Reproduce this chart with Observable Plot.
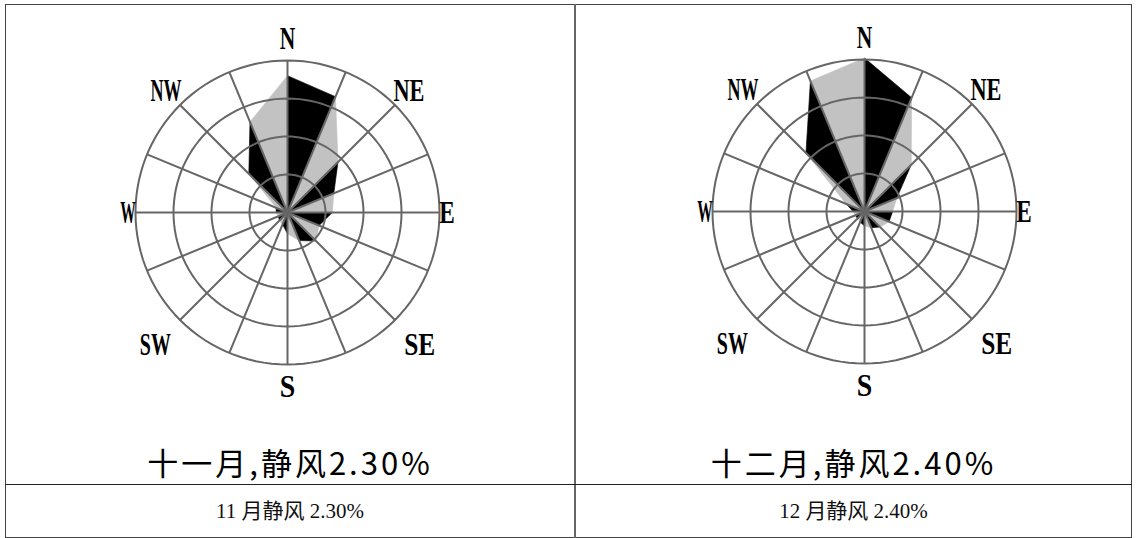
<!DOCTYPE html>
<html>
<head>
<meta charset="utf-8">
<script src="https://cdn.jsdelivr.net/npm/d3@7"></script>
<script src="https://cdn.jsdelivr.net/npm/@observablehq/plot@0.6"></script>
<style>
  html, body { margin: 0; padding: 0; background: #fff; }
  body { width: 1136px; height: 538px; position: relative; overflow: hidden; }
  .abs { position: absolute; }
  .big { font-family: "Noto Sans CJK SC", sans-serif; font-size: 31px; color: #000; text-align: center; letter-spacing: 3px; }
  .cap { font-family: "Liberation Serif", "Noto Sans CJK SC", serif; font-size: 21px; color: #111; text-align: center; line-height: 52px; }
</style>
</head>
<body>
<div class="abs" style="left:5px;top:4px;width:1127px;height:534px;border:1px solid #444;box-sizing:border-box"></div>
<div class="abs" style="left:574px;top:4px;width:2px;height:534px;background:#666"></div>
<div class="abs" style="left:5px;top:484px;width:1127px;height:1px;background:#222"></div>
<div id="p1" class="abs" style="left:87px;top:12px"></div>
<div id="p2" class="abs" style="left:664px;top:11px"></div>
<div id="b1" class="abs big" style="left:5px;width:570px;top:439px"></div>
<div id="b2" class="abs big" style="left:575px;width:557px;top:439px"></div>
<div id="c1" class="abs cap" style="left:5px;width:570px;top:485px"></div>
<div id="c2" class="abs cap" style="left:575px;width:557px;top:485px"></div>
<script>
// 16 compass directions, clockwise from north
const directions = ["N","NNE","NE","ENE","E","ESE","SE","SSE","S","SSW","SW","WSW","W","WNW","NW","NNW"];
// wind frequency (%) per direction
const novFreq = [18.0, 16.5, 9.4, 6.6, 5.9, 4.5, 5.3, 4.0, 2.8, 1.7, 1.5, 1.3, 1.5, 1.6, 7.2, 12.9];
const decFreq = [20.2, 16.2, 8.7, 4.6, 3.7, 3.5, 2.9, 2.3, 1.9, 1.5, 1.3, 1.3, 1.5, 2.6, 10.9, 18.6];
// grid rings (%)
const ringValues = [5, 10, 15, 20];
// labelled compass points
const compassLabels = ["N","NE","E","SE","S","SW","W","NW"];
// titles
const imageTitles = ["十一月,静风2.30%", "十二月,静风2.40%"];
const captions = ["11 月静风 2.30%", "12 月静风 2.40%"];

const PX = 7.6;            // pixels per percent
const SIZE = 400;
const D = SIZE / 2 / PX;
const ang = d => directions.indexOf(d) * Math.PI / 8;

function rose(freq) {
  const pts = directions.map((d, i) => ({i, x: freq[i] * Math.sin(ang(d)), y: freq[i] * Math.cos(ang(d))}));
  const tris = [];
  pts.forEach((p, i) => {
    const q = pts[(i + 1) % pts.length];
    tris.push({t: i, x: 0, y: 0}, {t: i, x: p.x, y: p.y}, {t: i, x: q.x, y: q.y});
  });
  const black = tris.filter(d => d.t % 2 === 0);
  const gray = tris.filter(d => d.t % 2 === 1);
  const rmax = d3.max(ringValues);
  const ringPts = ringValues.flatMap(r => d3.range(0, 361, 3).map(a => ({r, x: r * Math.sin(a * Math.PI / 180), y: r * Math.cos(a * Math.PI / 180)})));
  const spokes = directions.map(d => ({x1: 0, y1: 0, x2: rmax * Math.sin(ang(d)), y2: rmax * Math.cos(ang(d))}));
  const labR = d => {
    if (d === "E" || d === "W") return rmax * 1.05;
    if (d === "N" || d === "S") return rmax * 1.145;
    if (d === "NE" || d === "NW") return rmax * 1.13;
    return rmax * 1.23;
  };
  const labels = compassLabels.map(d => ({text: d, x: labR(d) * Math.sin(ang(d)), y: labR(d) * Math.cos(ang(d))}));
  const svg = Plot.plot({
    width: SIZE, height: SIZE, margin: 0,
    x: {domain: [-D, D], axis: null},
    y: {domain: [-D, D], axis: null},
    style: {overflow: "visible", background: "transparent"},
    marks: [
      Plot.line(black, {x: "x", y: "y", z: "t", fill: "#000", stroke: "#000", strokeWidth: 0.6}),
      Plot.line(gray, {x: "x", y: "y", z: "t", fill: "#c2c2c2", stroke: "#c2c2c2", strokeWidth: 0.6}),
      Plot.line(ringPts, {x: "x", y: "y", z: "r", stroke: "#666", strokeWidth: 2}),
      Plot.link(spokes, {x1: "x1", y1: "y1", x2: "x2", y2: "y2", stroke: "#666", strokeWidth: 2}),
      Plot.text(labels, {x: "x", y: "y", text: "text", fontSize: 32, fontWeight: "bold", fontFamily: "Liberation Serif", fill: "#000"})
    ]
  });
  d3.select(svg).selectAll('g[aria-label="text"] text').each(function() {
    const n = this.textContent.length;
    this.setAttribute("textLength", n * 15.5);
    this.setAttribute("lengthAdjust", "spacingAndGlyphs");
  });
  return svg;
}

document.getElementById("p1").appendChild(rose(novFreq));
document.getElementById("p2").appendChild(rose(decFreq));
document.getElementById("b1").textContent = imageTitles[0];
document.getElementById("b2").textContent = imageTitles[1];
document.getElementById("c1").textContent = captions[0];
document.getElementById("c2").textContent = captions[1];
</script>
</body>
</html>
